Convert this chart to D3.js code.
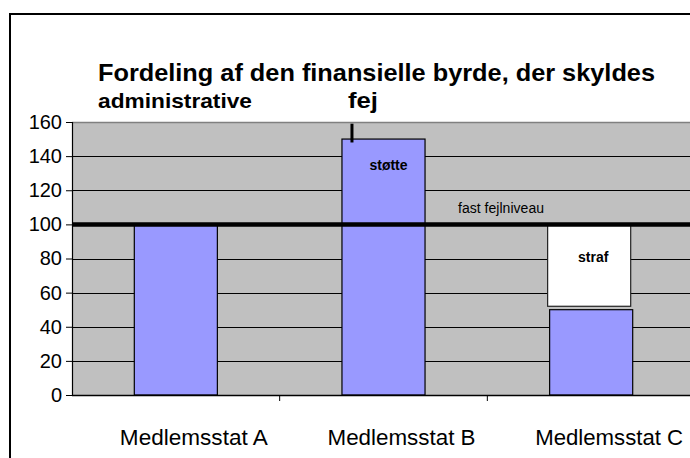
<!DOCTYPE html>
<html>
<head>
<meta charset="utf-8">
<script src="https://cdn.jsdelivr.net/npm/d3@7"></script>
<style>
html,body{margin:0;padding:0;background:#fff;}
svg{display:block;font-family:"Liberation Sans",Arial,sans-serif;}
</style>
</head>
<body>
<svg id="chart" width="690" height="458"></svg>
<script>
// ---- data ----
const categories = ["Medlemsstat A", "Medlemsstat B", "Medlemsstat C"];
const barValues = [100, 150, 50];
const barLabels = ["", "støtte", ""];
const strafLow = [null, null, 52];
const strafHigh = [null, null, 100];
const strafLabels = ["", "", "straf"];
const fixedLevel = 100;
const fixedLevelLabel = "fast fejlniveau";
const yTicks = [0, 20, 40, 60, 80, 100, 120, 140, 160];
const markerFrom = [null, 148, null];
const markerTo = [null, 159, null];
const titleLine1 = "Fordeling af den finansielle byrde, der skyldes";
const titleLine2a = "administrative";
const titleLine2b = "fej";

// ---- layout ----
const svg = d3.select("#chart");
const plotL = 72, plotR = 695, plotT = 122, plotB = 395;

// outer frame
svg.append("rect").attr("x", 10).attr("y", 14).attr("width", 720).attr("height", 500)
  .attr("fill", "#fff").attr("stroke", "#000").attr("stroke-width", 2);

const x = d3.scaleBand().domain(categories).range([plotL, plotR])
  .paddingInner(0.6).paddingOuter(0.3);
const y = d3.scaleLinear().domain([0, 160]).range([plotB, plotT]);

// plot background
svg.append("rect").attr("x", plotL).attr("y", y(160)).attr("width", plotR - plotL)
  .attr("height", y(0) - y(160)).attr("fill", "#c0c0c0");
// top border of plot
svg.append("line").attr("x1", plotL).attr("x2", plotR).attr("y1", y(160) + 0.5).attr("y2", y(160) + 0.5)
  .attr("stroke", "#808080").attr("stroke-width", 1.5);

// gridlines
svg.append("g").selectAll("line").data(yTicks.filter(t => t > 0 && t < 160)).join("line")
  .attr("x1", plotL).attr("x2", plotR)
  .attr("y1", d => Math.round(y(d)) + 0.5).attr("y2", d => Math.round(y(d)) + 0.5)
  .attr("stroke", "#000").attr("stroke-width", 1);

// bars
svg.append("g").selectAll("rect").data(categories).join("rect")
  .attr("x", c => x(c)).attr("width", x.bandwidth())
  .attr("y", (c, i) => y(barValues[i])).attr("height", (c, i) => y(0) - y(barValues[i]))
  .attr("fill", "#9999ff").attr("stroke", "#000").attr("stroke-width", 1.2);

// straf boxes
const strafIdx = categories.map((c, i) => i).filter(i => strafLow[i] != null);
svg.append("g").selectAll("rect").data(strafIdx).join("rect")
  .attr("x", i => x(categories[i]) - 2).attr("width", x.bandwidth())
  .attr("y", i => y(strafHigh[i])).attr("height", i => y(strafLow[i]) - y(strafHigh[i]))
  .attr("fill", "#fff").attr("stroke", "#222").attr("stroke-width", 1.2);
svg.append("g").selectAll("text").data(strafIdx).join("text")
  .attr("x", i => x(categories[i]) + x.bandwidth() / 2 + 2)
  .attr("y", i => y((strafLow[i] + strafHigh[i]) / 2) - 3)
  .attr("text-anchor", "middle").attr("font-size", 14).attr("font-weight", "bold")
  .attr("fill", "#000").text(i => strafLabels[i]);

// bar labels
svg.append("g").selectAll("text").data(categories).join("text")
  .attr("x", c => x(c) + x.bandwidth() / 2 + 5)
  .attr("y", (c, i) => y(barValues[i]) + 31)
  .attr("text-anchor", "middle").attr("font-size", 14).attr("font-weight", "bold")
  .attr("fill", "#000").text((c, i) => barLabels[i]);

// fixed level line
svg.append("line").attr("x1", plotL).attr("x2", plotR).attr("y1", y(fixedLevel)).attr("y2", y(fixedLevel))
  .attr("stroke", "#000").attr("stroke-width", 4.5);
svg.append("text").attr("x", 458).attr("y", y(fixedLevel) - 11)
  .attr("font-size", 14).attr("fill", "#000").attr("textLength", 86).text(fixedLevelLabel);

// stray marker
const mIdx = categories.map((c, i) => i).filter(i => markerFrom[i] != null);
svg.append("g").selectAll("line").data(mIdx).join("line")
  .attr("x1", i => x(categories[i]) + 10).attr("x2", i => x(categories[i]) + 10)
  .attr("y1", i => y(markerTo[i])).attr("y2", i => y(markerFrom[i]))
  .attr("stroke", "#000").attr("stroke-width", 3);

// y axis
const yAxis = d3.axisLeft(y).tickValues(yTicks).tickSize(6).tickPadding(4).tickFormat(d3.format("d"));
const gy = svg.append("g").attr("transform", `translate(${plotL},0)`).call(yAxis);
gy.select(".domain").attr("stroke", "#000").attr("stroke-width", 1.2);
gy.selectAll(".tick line").attr("stroke", "#000");
gy.selectAll(".tick text").attr("font-size", 20).attr("fill", "#000")
  .attr("font-family", "'Liberation Sans',Arial,sans-serif");

// x axis
svg.append("line").attr("x1", plotL).attr("x2", plotR).attr("y1", plotB + 0.5).attr("y2", plotB + 0.5)
  .attr("stroke", "#000").attr("stroke-width", 1.5);
const bounds = categories.slice(1).map(c => x(c) - x.step() * 0.3);
svg.append("g").selectAll("line").data(bounds).join("line")
  .attr("x1", d => d).attr("x2", d => d).attr("y1", plotB).attr("y2", plotB + 6)
  .attr("stroke", "#000").attr("stroke-width", 1);
svg.append("g").selectAll("text").data(categories).join("text")
  .attr("x", c => x(c) + x.bandwidth() / 2 + 18).attr("y", 445)
  .attr("text-anchor", "middle").attr("font-size", 22).attr("fill", "#000")
  .attr("textLength", 148).attr("lengthAdjust", "spacingAndGlyphs")
  .text(c => c);

// title
svg.append("text").attr("x", 98).attr("y", 81).attr("font-size", 24).attr("font-weight", "bold")
  .attr("textLength", 557).attr("lengthAdjust", "spacingAndGlyphs").text(titleLine1);
svg.append("text").attr("x", 98).attr("y", 108).attr("font-size", 21).attr("font-weight", "bold")
  .attr("textLength", 154).attr("lengthAdjust", "spacingAndGlyphs").text(titleLine2a);
svg.append("text").attr("x", 348).attr("y", 108).attr("font-size", 22).attr("font-weight", "bold")
  .attr("textLength", 30).attr("lengthAdjust", "spacingAndGlyphs").text(titleLine2b);
</script>
</body>
</html>
